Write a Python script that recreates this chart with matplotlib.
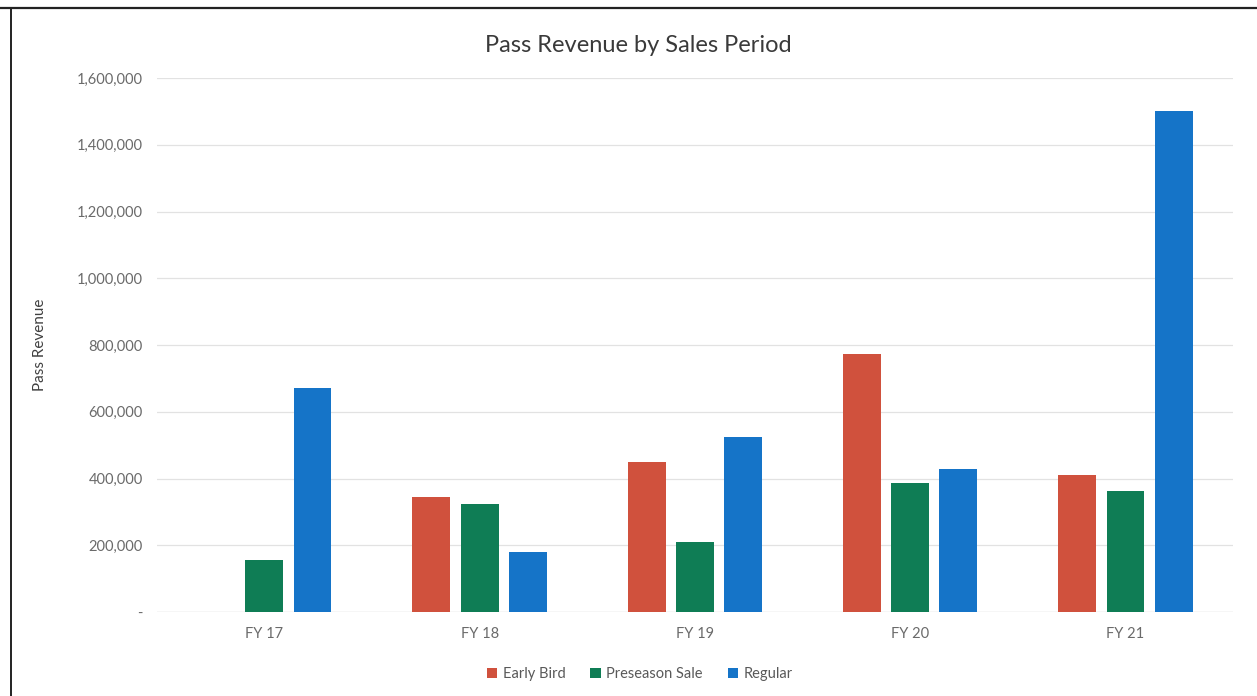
import matplotlib
matplotlib.use('Agg')
from matplotlib import pyplot as plt
from matplotlib.lines import Line2D
from matplotlib.ticker import FuncFormatter
import numpy as np

plt.rcParams["font.family"] = ["Lato", "DejaVu Sans"]

# Data
years = ['FY 17', 'FY 18', 'FY 19', 'FY 20', 'FY 21']
series = ['Early Bird', 'Preseason Sale', 'Regular']
early_bird = [0, 346000, 451000, 773000, 411000]
preseason = [157000, 324000, 211000, 386000, 363000]
regular = [671000, 179000, 525000, 428000, 1502000]
y_ticks = [0, 200000, 400000, 600000, 800000, 1000000, 1200000, 1400000, 1600000]

colors = ['#D0513D', '#0F7D55', '#1574C8']

fig = plt.figure(figsize=(12.57, 6.96), dpi=100)
ax = fig.add_axes([0.1246, 0.1207, 0.8564, 0.767])

x = np.arange(len(years))
width = 0.176
step = 0.224
for k, (name, vals) in enumerate(zip(series, [early_bird, preseason, regular])):
    ax.bar(x + (k - 1) * step, vals, width, color=colors[k], label=name, zorder=3)

ax.set_xlim(-0.5, len(years) - 0.5)
ax.set_ylim(0, 1600000)
ax.set_yticks(y_ticks)
ax.yaxis.set_major_formatter(FuncFormatter(lambda v, p: '-' if v == 0 else f'{v:,.0f}'))
ax.set_xticks(x)
ax.set_xticklabels(years)
ax.grid(axis='y', color='#E2E2E2', linewidth=0.9, zorder=0)
ax.axhline(0, color='#D9D9D9', linewidth=0.9, zorder=2)
for s in ax.spines.values():
    s.set_visible(False)
ax.tick_params(length=0, labelsize=10.5, labelcolor='#6A6A6A')
ax.tick_params(axis='y', pad=10)
ax.tick_params(axis='x', pad=11)

ax.set_ylabel('Pass Revenue', fontsize=11, color='#404040')
ax.yaxis.set_label_coords(-0.102, 0.5)
fig.text(0.508, 0.935, 'Pass Revenue by Sales Period', ha='center', va='center',
         fontsize=17, color='#3A3A3A')

fig.legend(*ax.get_legend_handles_labels(), loc='center', bbox_to_anchor=(0.509, 0.032), ncol=3,
           frameon=False, fontsize=10.5, labelcolor='#595959', handlelength=0.7, handleheight=0.7,
           handletextpad=0.4, columnspacing=1.7)

# page frame lines from the scanned document
fig.add_artist(Line2D([0.0, 1.0], [0.988, 0.988], transform=fig.transFigure, color='#222222', linewidth=1.6))
fig.add_artist(Line2D([0.0085, 0.0085], [0.0, 0.988], transform=fig.transFigure, color='#222222', linewidth=1.4))

fig.savefig('out.png', dpi=100)
